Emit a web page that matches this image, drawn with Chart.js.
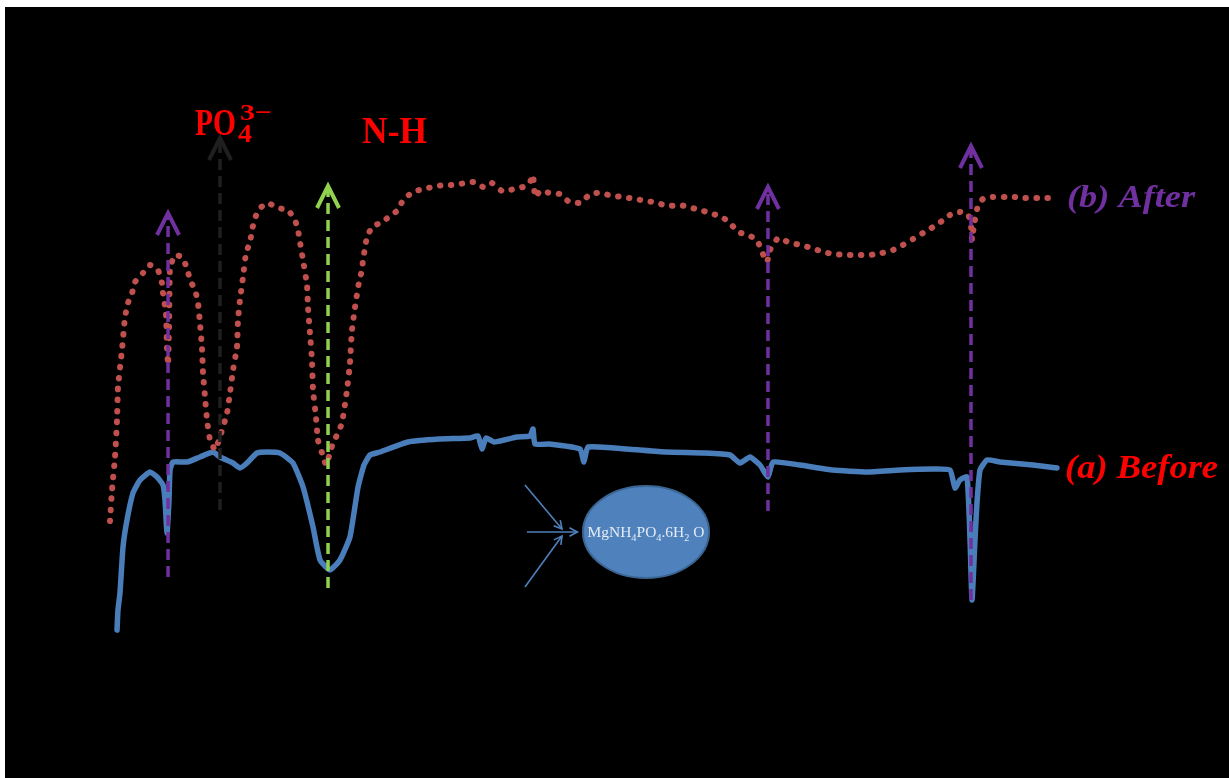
<!DOCTYPE html>
<html>
<head>
<meta charset="utf-8">
<style>
  html, body { margin: 0; padding: 0; background: #000; overflow: hidden; }
  canvas { display: block; }
</style>
<script src="https://cdn.jsdelivr.net/npm/chart.js@4.4.1/dist/chart.umd.min.js"></script>
</head>
<body>
<canvas id="spectra" width="1229" height="778"></canvas>
<script>
// Spectrum (a) Before: position along the scan (0-100) and signal (0-100)
const beforeX = [0.74, 0.84, 1.05, 1.37, 1.79, 2.42, 3.16, 4.21, 4.95, 5.58, 5.79, 6.0, 6.21, 6.32, 6.63, 8.11, 9.47, 10.84, 11.58, 12.95, 13.68, 14.42, 15.47, 16.53, 17.89, 19.26, 20.32, 21.37, 22.11, 23.16, 24.21, 25.26, 26.11, 26.74, 27.37, 28.42, 31.37, 34.63, 37.89, 38.74, 39.16, 39.58, 40.42, 42.84, 44.21, 44.53, 44.74, 46.21, 49.47, 49.89, 50.32, 54.42, 58.53, 62.63, 65.26, 66.32, 67.37, 68.42, 69.26, 69.79, 72.63, 76.11, 79.68, 83.16, 86.63, 88.42, 88.95, 89.47, 90.21, 90.53, 90.74, 91.05, 91.26, 91.58, 92.32, 93.68, 97.16, 99.68];
const beforeY = [2, 6, 9.4, 18.6, 24, 29.4, 32, 33.6, 32.6, 31, 28, 21.4, 28, 34, 35.6, 35.6, 36.6, 37.6, 36.6, 35.4, 34.4, 35.4, 37.4, 37.6, 37.4, 35.4, 30.6, 22.6, 16, 14, 16, 20.6, 30.6, 35, 37, 37.6, 39.6, 40.2, 40.4, 40.8, 38.2, 40.4, 39.6, 40.6, 40.8, 42.2, 39.2, 39.2, 38.2, 35.6, 38.6, 38.2, 37.6, 37.4, 37, 35.4, 36.6, 35, 32.6, 35.6, 35, 34, 33.6, 34, 34.2, 34, 30.4, 32, 32.6, 20, 8, 20, 27.4, 34, 36, 35.6, 35, 34.4];

// Spectrum (b) After
const afterX = [0, 0.21, 0.53, 0.74, 0.84, 1.26, 1.58, 1.89, 2.32, 2.63, 3.47, 4.21, 5.05, 5.47, 5.58, 5.89, 6.0, 6.11, 6.21, 6.32, 6.84, 7.58, 8.11, 8.42, 8.95, 9.26, 9.47, 9.68, 9.79, 10.0, 10.21, 10.53, 11.05, 11.58, 12.32, 12.63, 12.95, 13.37, 13.47, 13.68, 14.0, 14.32, 14.74, 14.95, 15.26, 15.79, 16.63, 17.68, 18.74, 19.47, 19.79, 20.0, 20.32, 20.74, 20.84, 21.05, 21.26, 21.37, 21.68, 21.89, 22.32, 22.74, 23.16, 23.47, 24.0, 24.42, 24.95, 25.26, 25.47, 25.79, 26.21, 26.53, 26.63, 26.84, 27.05, 27.58, 28.63, 30.32, 30.84, 31.89, 32.95, 34.0, 35.05, 36.32, 37.37, 38.42, 39.26, 40.21, 41.26, 42.63, 43.47, 44.21, 44.53, 44.74, 45.26, 46.32, 47.37, 48.21, 49.47, 50.32, 51.05, 51.79, 52.84, 54.0, 55.26, 56.53, 57.58, 58.74, 60.0, 60.84, 62.11, 63.16, 64.42, 65.26, 66.11, 67.16, 68.11, 68.63, 69.16, 69.47, 70.32, 71.37, 72.63, 73.89, 75.05, 76.11, 77.37, 78.63, 80.0, 81.26, 82.42, 83.47, 84.53, 85.58, 86.63, 87.58, 88.42, 89.47, 90.32, 90.63, 90.74, 90.95, 91.37, 91.89, 92.95, 94.21, 95.26, 96.32, 97.37, 98.63, 99.68];
const afterY = [23.8, 30, 36.6, 44, 50.6, 58, 64.6, 67.4, 69.4, 71.6, 73.4, 75, 74, 71.4, 69.4, 65.4, 58.6, 55, 62, 74.6, 77, 76.6, 74.4, 72, 70, 67.6, 63.4, 58.6, 53.4, 48.6, 44, 40, 38, 40.6, 45.4, 49.4, 54, 58.6, 64, 68, 72.6, 77.4, 79.6, 82, 84.4, 86.4, 87.4, 86.4, 86, 84, 82, 79.6, 76, 71, 66.6, 61.4, 56, 50, 44.6, 40, 37.4, 35, 37.4, 39.4, 41.4, 43.4, 50, 55.4, 62, 66.6, 71.6, 74, 76, 78.4, 80.6, 82.6, 83.6, 86, 88, 89.6, 90.2, 90.6, 91, 91, 91.4, 91.6, 90.6, 91.4, 89.8, 90.2, 90.6, 91.6, 93, 88.6, 89.8, 89.4, 89.2, 87.8, 87.4, 88.8, 89.4, 89.4, 88.8, 88.6, 88.2, 87.8, 87.4, 86.8, 87, 86.6, 86, 85.4, 84.6, 83.4, 81.6, 81, 80, 77.6, 75.6, 78, 80.4, 79.6, 79, 78.4, 77.6, 77.2, 77, 77, 77, 77.4, 78, 79, 80.2, 81.4, 82.6, 83.8, 85, 85.6, 85.2, 83, 80, 83, 87, 88.2, 88.6, 88.6, 88.6, 88.4, 88.4, 88.4, 88.4];

// Band markers: position, lower end and upper end of each dashed arrow
const bandX = [6.11, 11.58, 22.95, 69.26, 90.63];
const bandLow = [12.6, 26, 10.4, 25.8, 8];
const bandHigh = [85.4, 100.4, 90.8, 90.6, 98.8];

// Styling of the band markers (same order as bandX)
const bandColors = ['#7030a0', '#1f1f1f', '#92d050', '#7030a0', '#7030a0'];

const BLUE = '#4a7ebb';
const RED_DOT = '#c0504d';

function toPoints(xs, ys) {
  return xs.map((x, i) => ({ x: x, y: ys[i] }));
}

function fitText(ctx, str, x, y, font, color, width) {
  ctx.save();
  ctx.font = font;
  const w = ctx.measureText(str).width;
  ctx.translate(x, y);
  ctx.scale(width / w, 1);
  ctx.fillStyle = color;
  ctx.textBaseline = 'alphabetic';
  ctx.fillText(str, 0, 0);
  ctx.restore();
}

function chevron(ctx, x, y, half, h) {
  // open arrow head pointing up, tip at (x, y)
  ctx.beginPath();
  ctx.moveTo(x - half, y + h);
  ctx.lineTo(x, y);
  ctx.lineTo(x + half, y + h);
  ctx.stroke();
}

function arrowTo(ctx, x0, y0, x1, y1, head) {
  ctx.beginPath();
  ctx.moveTo(x0, y0);
  ctx.lineTo(x1, y1);
  ctx.stroke();
  const a = Math.atan2(y1 - y0, x1 - x0);
  ctx.beginPath();
  ctx.moveTo(x1 - head * Math.cos(a - 0.5), y1 - head * Math.sin(a - 0.5));
  ctx.lineTo(x1, y1);
  ctx.lineTo(x1 - head * Math.cos(a + 0.5), y1 - head * Math.sin(a + 0.5));
  ctx.stroke();
}

const backdrop = {
  id: 'backdrop',
  beforeDraw(chart) {
    const ctx = chart.ctx;
    ctx.save();
    ctx.fillStyle = '#ffffff';
    ctx.fillRect(0, 0, chart.width, chart.height);
    ctx.fillStyle = '#000000';
    ctx.fillRect(5, 7, chart.width - 5, chart.height - 7);
    ctx.restore();
  }
};

const annotations = {
  id: 'annotations',
  afterDatasetsDraw(chart) {
    const ctx = chart.ctx;
    const sx = chart.scales.x, sy = chart.scales.y;
    const px = v => sx.getPixelForValue(v);
    const py = v => sy.getPixelForValue(v);

    // dashed band markers with open arrow heads
    bandX.forEach((bx, i) => {
      const x = px(bx), y0 = py(bandLow[i]), y1 = py(bandHigh[i]);
      ctx.save();
      ctx.strokeStyle = bandColors[i];
      ctx.lineWidth = 3.5;
      ctx.setLineDash([11, 6]);
      ctx.beginPath();
      ctx.moveTo(x, y0);
      ctx.lineTo(x, y1 + 3);
      ctx.stroke();
      ctx.setLineDash([]);
      ctx.lineWidth = 4;
      ctx.lineJoin = 'miter';
      chevron(ctx, x, y1, 11, 22);
      ctx.restore();
    });

    // compound bubble
    const cx = px(56.42), cy = py(21.6);
    ctx.save();
    ctx.beginPath();
    ctx.ellipse(cx, cy, 63, 46, 0, 0, Math.PI * 2);
    ctx.fillStyle = '#4f81bd';
    ctx.fill();
    ctx.lineWidth = 2;
    ctx.strokeStyle = '#3b6593';
    ctx.stroke();

    // formula text inside the bubble
    const parts = [['MgNH', 0], ['4', 1], ['PO', 0], ['4', 1], ['.6H', 0], ['2', 1], [' O', 0]];
    const baseFont = '15px "Liberation Serif"', subFont = '10px "Liberation Serif"';
    let total = 0;
    parts.forEach(p => { ctx.font = p[1] ? subFont : baseFont; total += ctx.measureText(p[0]).width; });
    const targetW = 117;
    ctx.translate(cx - targetW / 2, cy + 5);
    ctx.scale(targetW / total, 1);
    ctx.fillStyle = '#e4ecf6';
    let xo = 0;
    parts.forEach(p => {
      ctx.font = p[1] ? subFont : baseFont;
      ctx.fillText(p[0], xo, p[1] ? 4 : 0);
      xo += ctx.measureText(p[0]).width;
    });
    ctx.restore();

    // three pointers into the bubble
    ctx.save();
    ctx.strokeStyle = '#4f81bd';
    ctx.lineWidth = 1.6;
    arrowTo(ctx, px(43.68), py(31), px(47.58), py(22.2), 9);
    arrowTo(ctx, px(43.89), py(21.6), px(49.2), py(21.6), 9);
    arrowTo(ctx, px(43.68), py(10.6), px(47.58), py(20.8), 9);
    ctx.restore();

    // labels
    fitText(ctx, 'PO', px(8.95), py(101), 'bold 37px "Liberation Serif"', '#ff0000', 41);
    fitText(ctx, '4', px(13.47), py(99.6), 'bold 26px "Liberation Serif"', '#ff0000', 14);
    fitText(ctx, '3\u2212', px(13.68), py(104), 'bold 24px "Liberation Serif"', '#ff0000', 32);
    fitText(ctx, 'N-H', px(26.53), py(99.4), 'bold 37px "Liberation Serif"', '#ff0000', 65);
    fitText(ctx, '(b) After', px(100.74), py(86.6), 'italic bold 31px "Liberation Serif"', '#7030a0', 128);
    fitText(ctx, '(a) Before', px(100.53), py(32.4), 'italic bold 34px "Liberation Serif"', '#ff0000', 153);
  }
};

new Chart(document.getElementById('spectra'), {
  type: 'line',
  data: {
    datasets: [
      {
        label: '(a) Before',
        data: toPoints(beforeX, beforeY),
        borderColor: BLUE,
        borderWidth: 5.5,
        pointRadius: 0,
        tension: 0.15,
        borderJoinStyle: 'round',
        borderCapStyle: 'round',
        order: 2
      },
      {
        label: '(b) After',
        data: toPoints(afterX, afterY),
        borderColor: RED_DOT,
        borderWidth: 6,
        borderDash: [0.5, 10.5],
        borderCapStyle: 'round',
        pointRadius: 0,
        tension: 0.1,
        order: 1
      }
    ]
  },
  options: {
    responsive: false,
    animation: false,
    devicePixelRatio: 1,
    layout: { padding: { left: 110, right: 169, top: 140, bottom: 138 } },
    scales: {
      x: { type: 'linear', min: 0, max: 100, display: false },
      y: { type: 'linear', min: 0, max: 100, display: false }
    },
    plugins: {
      legend: { display: false },
      tooltip: { enabled: false }
    },
    clip: false
  },
  plugins: [backdrop, annotations]
});
</script>
</body>
</html>
